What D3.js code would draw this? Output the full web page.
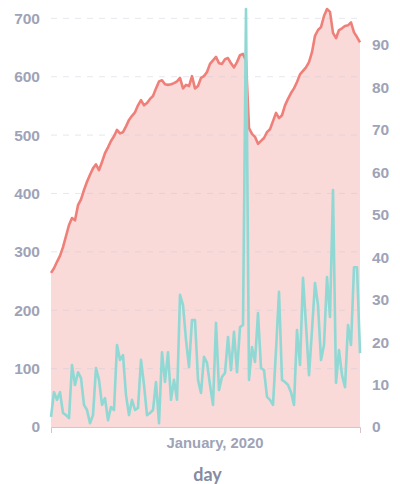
<!DOCTYPE html>
<html>
<head>
<meta charset="utf-8">
<script src="https://cdn.jsdelivr.net/npm/d3@7"></script>
<style>
  body { margin: 0; background: #fff; }
  svg { display: block; font-family: Lato, "Open Sans", sans-serif; }
</style>
</head>
<body>
<svg width="400" height="484"></svg>
<script>
// red series, left axis
const redValues = [
  264, 272, 283, 293, 308, 327, 346, 358, 354, 380,
  390, 406, 420, 432, 443, 450, 440, 454, 469, 479,
  490, 498, 509, 503, 505, 515, 526, 533, 539, 551,
  560, 551, 555, 562, 567, 580, 592, 594, 587, 586,
  587, 589, 592, 598, 580, 586, 584, 601, 580, 584,
  598, 601, 608, 622, 628, 634, 623, 622, 630, 632,
  623, 616, 625, 637, 639, 628, 512, 502, 497, 485,
  490, 495, 505, 510, 524, 538, 529, 534, 551, 562,
  572, 580, 591, 604, 610, 616, 625, 642, 670, 680,
  685, 704, 716, 711, 675, 666, 680, 683, 687, 688,
  693, 676, 668, 659
];

// cyan series, right axis
const cyanValues = [
  2.4, 8.2, 6.4, 8.2, 3.3, 2.8, 2.1, 14.6, 9.9, 12.9,
  11.5, 5.2, 4.0, 0.9, 2.8, 13.9, 11.1, 5.2, 6.8, 1.6,
  4.7, 4.0, 19.3, 15.8, 16.9, 7.5, 2.8, 6.4, 4.0, 4.5,
  15.8, 9.9, 2.8, 3.3, 4.0, 10.6, 0.9, 17.6, 10.6, 17.6,
  6.4, 11.1, 6.4, 31.1, 28.7, 20.5, 14.1, 25.2, 25.2, 11.1,
  8.0, 16.5, 15.1, 9.9, 5.2, 24.5, 8.7, 11.8, 12.7, 21.2,
  13.4, 22.4, 12.9, 23.5, 24.0, 98.4, 11.1, 18.8, 15.3, 26.8,
  13.9, 13.4, 7.1, 6.4, 5.2, 18.1, 31.8, 11.1, 10.6, 9.9,
  8.2, 5.2, 22.8, 14.6, 35.1, 24.0, 12.2, 22.8, 33.9, 28.7,
  15.8, 19.3, 35.3, 25.9, 55.8, 10.4, 18.1, 12.2, 9.4, 24.0,
  19.3, 37.6, 37.6, 17.4
];

const leftTicks = [0, 100, 200, 300, 400, 500, 600, 700];
const rightTicks = [0, 10, 20, 30, 40, 50, 60, 70, 80, 90];
const xTickIndex = [54.5];
const xTickLabels = ["January, 2020"];
const xTitle = "day";

const svg = d3.select("svg");
const margin = { top: 9, right: 40, bottom: 57, left: 51 };
const width = +svg.attr("width") - margin.left - margin.right;
const height = +svg.attr("height") - margin.top - margin.bottom;

const g = svg.append("g")
    .attr("transform", `translate(${margin.left},${margin.top})`);

const x = d3.scaleLinear().domain([0, redValues.length - 1]).range([0, width]);
const yLeft = d3.scaleLinear().domain([0, d3.max(redValues)]).range([height, 0]);
const yRight = d3.scaleLinear().domain([0, d3.max(cyanValues)]).range([height, 0]);

const labelColor = "#9ea3b7";

// area under the red line
g.append("path")
    .datum(redValues)
    .attr("fill", "#fad9d9")
    .attr("d", d3.area()
        .x((d, i) => x(i))
        .y0(height)
        .y1(d => yLeft(d)));

// dashed grid
g.selectAll("line.grid")
    .data(leftTicks.slice(1))
    .enter().append("line")
    .attr("class", "grid")
    .attr("x1", 0).attr("x2", width)
    .attr("y1", d => yLeft(d)).attr("y2", d => yLeft(d))
    .attr("stroke", "#c9c9d6")
    .attr("stroke-opacity", 0.45)
    .attr("stroke-dasharray", "6,6");

g.append("path")
    .datum(redValues)
    .attr("fill", "none")
    .attr("stroke", "#ef8079")
    .attr("stroke-width", 2.6)
    .attr("stroke-linejoin", "round")
    .attr("d", d3.line().x((d, i) => x(i)).y(d => yLeft(d)));

g.append("path")
    .datum(cyanValues)
    .attr("fill", "none")
    .attr("stroke", "#8fd8d4")
    .attr("stroke-width", 2.6)
    .attr("stroke-linejoin", "round")
    .attr("d", d3.line().x((d, i) => x(i)).y(d => yRight(d)));

// x axis
const xAxis = g.append("g")
    .attr("transform", `translate(0,${height})`)
    .call(d3.axisBottom(x)
        .tickValues(xTickIndex)
        .tickFormat((d, i) => xTickLabels[i])
        .tickSize(0)
        .tickSizeOuter(6)
        .tickPadding(10));
xAxis.select(".domain").attr("stroke", "#d8c3c8");
xAxis.selectAll("text")
    .attr("fill", labelColor)
    .style("font-size", "14.8px")
    .style("font-weight", "bold");

// left axis
const leftAxis = g.append("g")
    .call(d3.axisLeft(yLeft).tickValues(leftTicks).tickSize(0).tickPadding(11));
leftAxis.select(".domain").remove();
leftAxis.selectAll("text")
    .attr("fill", labelColor)
    .style("font-size", "15.5px")
    .style("font-weight", "bold");

// right axis
const rightAxis = g.append("g")
    .attr("transform", `translate(${width},0)`)
    .call(d3.axisRight(yRight).tickValues(rightTicks).tickSize(0).tickPadding(12));
rightAxis.select(".domain").remove();
rightAxis.selectAll("text")
    .attr("fill", labelColor)
    .style("font-size", "15.5px")
    .style("font-weight", "bold");

svg.append("text")
    .attr("x", margin.left + width / 2 + 2)
    .attr("y", margin.top + height + 54)
    .attr("text-anchor", "middle")
    .attr("fill", "#878b9f")
    .style("font-size", "18px")
    .style("font-weight", "bold")
    .text(xTitle);
</script>
</body>
</html>
